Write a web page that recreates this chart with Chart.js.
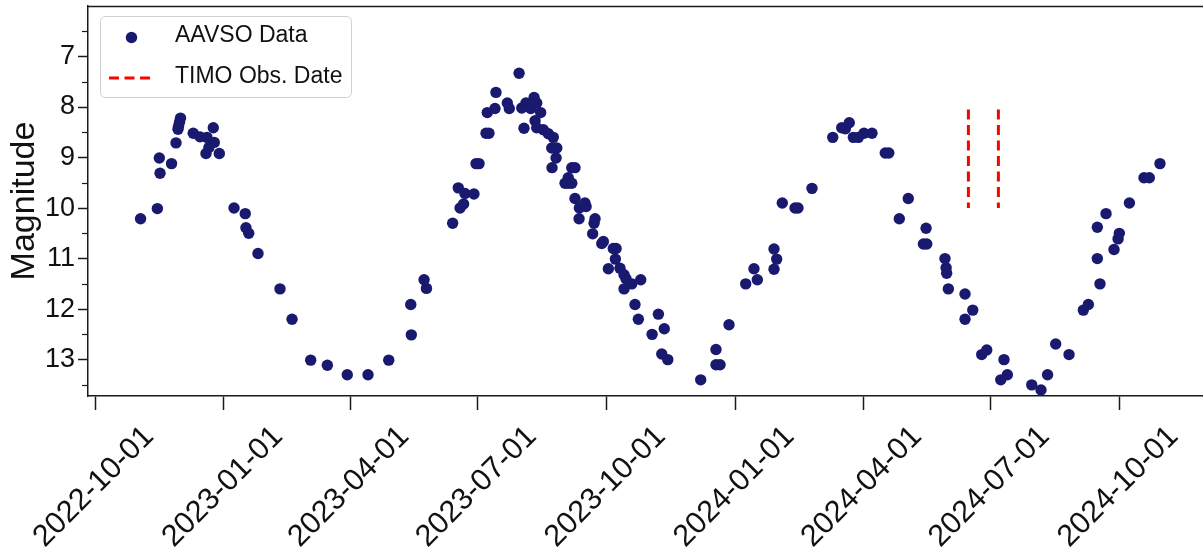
<!DOCTYPE html>
<html><head><meta charset="utf-8">
<script src="https://cdn.jsdelivr.net/npm/chart.js@4.4.0/dist/chart.umd.min.js"></script>
<style>html,body{margin:0;padding:0;background:#fff;overflow:hidden}#wrap{width:1203px;height:550px;position:relative}</style>
</head><body><div id="wrap"><canvas id="c"></canvas></div>
<script>
// ---- data (AAVSO observations: Julian Date, visual magnitude) ----
const tickLabels = ['2022-10-01','2023-01-01','2023-04-01','2023-07-01','2023-10-01','2024-01-01','2024-04-01','2024-07-01','2024-10-01'];
const yTickValues = [7, 8, 9, 10, 11, 12, 13];
const yMinorValues = [6.5, 7.5, 8.5, 9.5, 10.5, 11.5, 12.5, 13.5];
const seriesLabel = 'AAVSO Data';
const obsLabel = 'TIMO Obs. Date';
const jd = [
2459886.0, 2459898.0, 2459899.4, 2459899.9, 2459908.1, 2459911.3, 2459914.5, 2459913.8, 2459913.1, 2459912.7,
2459923.6, 2459928.4, 2459933.4, 2459937.9, 2459938.6, 2459934.8, 2459932.7, 2459942.2,
2459952.7, 2459960.7, 2459961.2, 2459963.2, 2459969.8, 2459985.5, 2459994.1, 2460007.4, 2460019.3, 2460033.5, 2460048.3, 2460063.1,
2460078.8, 2460079.2, 2460088.3, 2460090.0,
2460108.7, 2460112.7, 2460114.0, 2460117.5, 2460116.5, 2460123.9, 2460125.4, 2460127.5, 2460132.5, 2460134.6,
2460133.4, 2460138.9, 2460139.6, 2460147.7, 2460149.1, 2460156.1, 2460159.6, 2460158.0, 2460161.0, 2460164.4,
2460166.8, 2460168.7, 2460171.5, 2460167.5, 2460168.7, 2460173.4, 2460177.0, 2460180.5, 2460179.4, 2460183.0,
2460182.5, 2460179.6, 2460193.7, 2460196.0, 2460191.2, 2460188.9, 2460191.2, 2460193.7, 2460196.0, 2460199.1,
2460203.1, 2460203.9, 2460198.9, 2460210.3, 2460209.6, 2460208.6, 2460215.1, 2460216.2, 2460223.3, 2460225.3,
2460224.8, 2460219.8, 2460228.1, 2460231.0, 2460232.4, 2460236.5, 2460231.0, 2460242.9, 2460238.8, 2460241.2,
2460255.5, 2460259.7, 2460251.0, 2460257.9, 2460262.2, 2460285.7, 2460296.6, 2460296.6, 2460299.5, 2460305.9,
2460317.8, 2460323.7, 2460326.1, 2460338.0, 2460339.9, 2460338.0, 2460343.9, 2460353.0, 2460355.1, 2460365.1,
2460379.9, 2460386.3, 2460388.9, 2460391.7, 2460394.6, 2460398.2, 2460402.2, 2460407.9, 2460417.4, 2460419.9,
2460427.4, 2460433.8, 2460446.5, 2460444.6, 2460447.0, 2460460.0, 2460460.8, 2460461.2, 2460462.4, 2460474.3,
2460479.8, 2460474.3, 2460486.2, 2460489.8, 2460502.1, 2460499.8, 2460504.5, 2460521.9, 2460528.5, 2460533.2,
2460539.0, 2460548.5, 2460558.7, 2460562.3, 2460570.6, 2460568.7, 2460580.6, 2460583.5, 2460584.4, 2460568.7,
2460574.9, 2460591.6, 2460602.0, 2460605.8, 2460613.4
];
const mag = [
10.21, 10.01, 9.01, 9.31, 9.12, 8.71, 8.22, 8.30, 8.38, 8.44,
8.52, 8.59, 8.60, 8.41, 8.70, 8.80, 8.92, 8.92,
10.00, 10.11, 10.39, 10.50, 10.90, 11.60, 12.20, 13.01, 13.11, 13.30, 13.30, 13.01,
11.91, 12.51, 11.42, 11.59,
10.30, 9.60, 10.00, 9.71, 9.92, 9.72, 9.12, 9.12, 8.52, 8.52,
8.11, 8.03, 7.71, 7.92, 8.03, 7.33, 8.42, 8.02, 7.92, 8.03,
7.81, 7.92, 8.11, 8.27, 8.41, 8.45, 8.53, 8.60, 8.81, 8.81,
9.01, 9.20, 9.20, 9.20, 9.40, 9.51, 9.51, 9.51, 9.81, 10.00,
9.90, 9.97, 10.21, 10.21, 10.30, 10.51, 10.70, 10.66, 10.80, 10.80,
11.01, 11.20, 11.19, 11.32, 11.40, 11.50, 11.60, 11.42, 11.91, 12.20,
12.10, 12.39, 12.50, 12.89, 13.00, 13.40, 12.80, 13.10, 13.10, 12.31,
11.50, 11.20, 11.42, 10.81, 11.01, 11.21, 9.90, 10.00, 10.00, 9.61,
8.60, 8.41, 8.43, 8.31, 8.60, 8.60, 8.52, 8.52, 8.91, 8.91,
10.21, 9.81, 10.40, 10.71, 10.71, 11.00, 11.18, 11.29, 11.60, 11.70,
12.02, 12.20, 12.90, 12.81, 13.00, 13.40, 13.30, 13.50, 13.60, 13.30,
12.69, 12.90, 12.02, 11.91, 11.50, 11.00, 10.82, 10.61, 10.50, 10.38,
10.11, 9.90, 9.40, 9.40, 9.12
];
const obsJD = [2460476.7, 2460498.1];
const obsMagRange = [8.05, 10.0];

// ---- helpers ----
function dateToJD(s){ const p = s.split('-').map(Number); return Date.UTC(p[0], p[1]-1, p[2]) / 86400000 + 2440587.5; }
const FONT = "'Liberation Sans', Arial, sans-serif";
const AXIS = '#1a1a1a';
const DOT = '#191970';
const DOT_R = 5.7;

const datasets = [{
  label: seriesLabel,
  data: jd.map((x, i) => ({x: x, y: mag[i]})),
  backgroundColor: DOT, borderWidth: 0, pointRadius: DOT_R, pointHoverRadius: DOT_R
}];
obsJD.forEach(x => datasets.push({
  label: obsLabel, showLine: true,
  data: [{x: x, y: obsMagRange[0]}, {x: x, y: obsMagRange[1]}],
  borderColor: 'red', borderWidth: 3, borderDash: [10, 5.5], pointRadius: 0, fill: false
}));

const framePlugin = {
  id: 'frame',
  afterDraw(chart) {
    const ctx = chart.ctx, a = chart.chartArea, xs = chart.scales.x, ys = chart.scales.y;
    ctx.save();
    // top spine
    ctx.strokeStyle = AXIS; ctx.lineWidth = 1.5;
    ctx.beginPath(); ctx.moveTo(a.left, a.top + 0.5); ctx.lineTo(a.right, a.top + 0.5); ctx.stroke();
    // minor y ticks
    ctx.lineWidth = 1.2;
    yMinorValues.forEach(v => {
      const y = Math.round(ys.getPixelForValue(v)) + 0.5;
      ctx.beginPath(); ctx.moveTo(a.left - 6, y); ctx.lineTo(a.left, y); ctx.stroke();
    });
    // rotated, centred x tick labels
    ctx.fillStyle = '#111';
    ctx.font = '30.5px ' + FONT;
    ctx.textAlign = 'center'; ctx.textBaseline = 'middle';
    tickLabels.forEach(lbl => {
      const px = xs.getPixelForValue(dateToJD(lbl));
      ctx.save();
      ctx.translate(px - 1, 487);
      ctx.rotate(-Math.PI / 4);
      ctx.fillText(lbl, 0, 0);
      ctx.restore();
    });
    // legend
    const lx = 100.5, ly = 16.5, lw = 251, lh = 81, r = 5;
    ctx.beginPath();
    ctx.moveTo(lx + r, ly); ctx.lineTo(lx + lw - r, ly); ctx.arcTo(lx + lw, ly, lx + lw, ly + r, r);
    ctx.lineTo(lx + lw, ly + lh - r); ctx.arcTo(lx + lw, ly + lh, lx + lw - r, ly + lh, r);
    ctx.lineTo(lx + r, ly + lh); ctx.arcTo(lx, ly + lh, lx, ly + lh - r, r);
    ctx.lineTo(lx, ly + r); ctx.arcTo(lx, ly, lx + r, ly, r); ctx.closePath();
    ctx.fillStyle = 'rgba(255,255,255,0.85)'; ctx.fill();
    ctx.strokeStyle = '#d0d0d0'; ctx.lineWidth = 1; ctx.stroke();
    const d0 = chart.data.datasets[0], d1 = chart.data.datasets[1];
    ctx.fillStyle = d0.backgroundColor;
    ctx.beginPath(); ctx.arc(131.5, 37.5, DOT_R, 0, Math.PI * 2); ctx.fill();
    ctx.strokeStyle = d1.borderColor; ctx.lineWidth = d1.borderWidth; ctx.setLineDash(d1.borderDash);
    ctx.beginPath(); ctx.moveTo(109, 78); ctx.lineTo(153, 78); ctx.stroke();
    ctx.setLineDash([]);
    ctx.fillStyle = '#111'; ctx.font = '23px ' + FONT; ctx.textAlign = 'left'; ctx.textBaseline = 'middle';
    ctx.fillText(d0.label, 175, 36);
    ctx.fillText(d1.label, 175, 77);
    ctx.restore();
  }
};

const xMin = dateToJD(tickLabels[0]) - 5.0;
const xMax = xMin + 795.6;

new Chart(document.getElementById('c'), {
  type: 'scatter',
  data: { datasets: datasets },
  plugins: [framePlugin],
  options: {
    animation: false, responsive: true, maintainAspectRatio: false,
    layout: { autoPadding: false, padding: { top: 6, left: 0, right: 0, bottom: 0 } },
    plugins: { legend: { display: false }, tooltip: { enabled: false } },
    scales: {
      x: {
        type: 'linear', min: xMin, max: xMax,
        afterBuildTicks: s => { s.ticks = tickLabels.map(t => ({ value: dateToJD(t) })); },
        ticks: { display: false },
        grid: { drawOnChartArea: false, drawTicks: true, tickLength: 14, tickColor: AXIS, tickWidth: 1.5 },
        border: { display: true, color: AXIS, width: 1.5 },
        afterFit: s => { s.height = 154; s.paddingLeft = 0; s.paddingRight = 0; }
      },
      y: {
        type: 'linear', reverse: true, min: 6.0, max: 13.72,
        afterBuildTicks: s => { s.ticks = yTickValues.map(v => ({ value: v })); },
        ticks: { font: { family: FONT, size: 27 }, color: '#111', padding: 3, callback: v => String(v) },
        grid: { drawOnChartArea: false, drawTicks: true, tickLength: 10, tickColor: AXIS, tickWidth: 1.5 },
        border: { display: true, color: AXIS, width: 1.5 },
        title: { display: true, text: 'Magnitude', font: { family: FONT, size: 34 }, color: '#111', padding: { top: 4, bottom: 0 } },
        afterFit: s => { s.width = 88; s.paddingTop = 0; s.paddingBottom = 0; }
      }
    }
  }
});
</script></body></html>
